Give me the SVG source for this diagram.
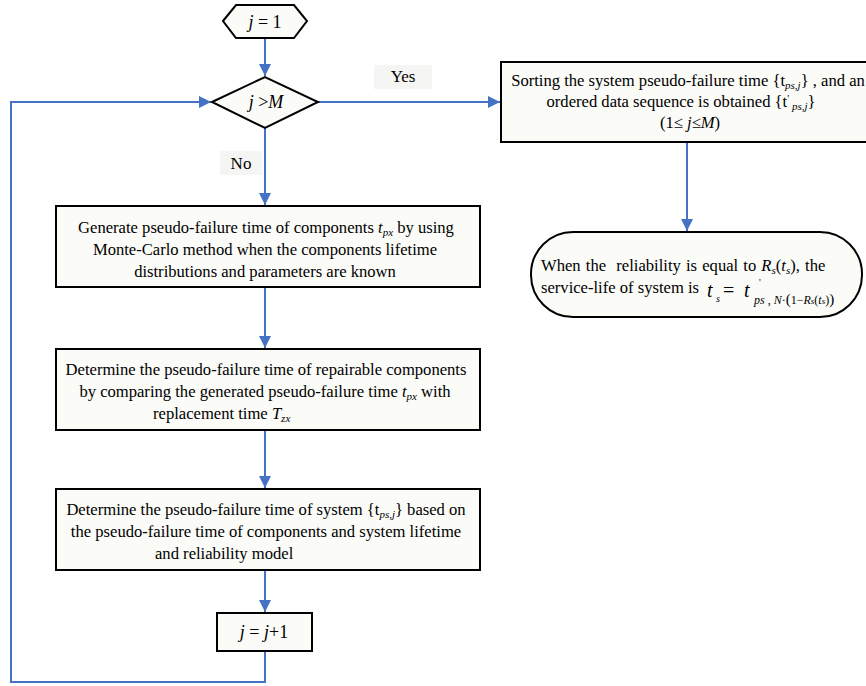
<svg xmlns="http://www.w3.org/2000/svg" width="866" height="686" viewBox="0 0 866 686">
<style>
.n{fill:#fbfbf8;stroke:#000;stroke-width:2}
.t{font-family:"Liberation Serif","Times New Roman",serif;font-size:16.6px;fill:#000}
.b{font-size:18px}
.c{text-anchor:middle}
.e{stroke:#4472c4;stroke-width:2;fill:none}
.lb{fill:#f5f5f3}
</style>
<defs>
<marker id="ah" viewBox="0 0 10 10" refX="10" refY="5" markerWidth="6" markerHeight="6" markerUnits="strokeWidth" orient="auto">
<path d="M0,0 L10,5 L0,10 z" fill="#4472c4"/>
</marker>
</defs>
<g id="connectors">
<path class="e" d="M265,38 V76" marker-end="url(#ah)"/>
<path class="e" d="M318,102 H500" marker-end="url(#ah)"/>
<path class="e" d="M265,128 V205" marker-end="url(#ah)"/>
<path class="e" d="M265,288 V348" marker-end="url(#ah)"/>
<path class="e" d="M265,431 V488" marker-end="url(#ah)"/>
<path class="e" d="M265,571 V612" marker-end="url(#ah)"/>
<path class="e" d="M265,651 V682 H11 V102 H211" marker-end="url(#ah)"/>
<path class="e" d="M687,143 V231" marker-end="url(#ah)"/>
</g>
<g id="label-yes">
<rect class="lb" x="374" y="65" width="58" height="24"/>
<text class="t c" x="403" y="82" style="font-size:17px">Yes</text>
</g>
<g id="label-no">
<rect class="lb" x="220" y="151" width="42" height="24"/>
<text class="t c" x="241" y="169" style="font-size:17px">No</text>
</g>
<g id="start">
<polygon class="n" points="223,21 236,5 294,5 307,21 294,38 236,38"/>
<text class="t b c" x="265" y="28"><tspan font-style="italic">j</tspan> = 1</text>
</g>
<g id="decision">
<polygon class="n" points="212,102 265,77 318,102 265,128"/>
<text class="t b c" x="266" y="108"><tspan font-style="italic">j</tspan> &gt;<tspan font-style="italic">M</tspan></text>
</g>
<g id="sort">
<rect class="n" x="501" y="62" width="372" height="80"/>
<text class="t c" x="688" y="86">Sorting the system pseudo-failure time {t<tspan font-size="11" font-style="italic" dy="3">ps,j</tspan><tspan dy="-3">} , and an</tspan></text>
<text class="t c" x="681" y="107">ordered data sequence is obtained {t<tspan font-size="11" dy="-5">'</tspan><tspan font-size="11" font-style="italic" dy="8">  ps,j</tspan><tspan dy="-3">}</tspan></text>
<text class="t c" x="690" y="128">(1≤ <tspan font-style="italic">j</tspan>≤<tspan font-style="italic">M</tspan>)</text>
</g>
<g id="result">
<rect class="n" x="531" y="232" width="331" height="85" rx="42" ry="42"/>
<text class="t" x="541" y="271" xml:space="preserve" style="word-spacing:1px">When the  reliability is equal to <tspan font-style="italic">R</tspan><tspan font-size="11" font-style="italic" dy="3">s</tspan><tspan dy="-3">(</tspan><tspan font-style="italic">t</tspan><tspan font-size="11" font-style="italic" dy="3">s</tspan><tspan dy="-3">), the</tspan></text>
<text class="t" x="541" y="293">service-life of system is</text>
<text class="t" x="707" y="297" style="font-size:20px;font-style:italic">t</text>
<text class="t" x="716" y="302" style="font-size:10px;font-style:italic">s</text>
<text class="t" x="723" y="297" style="font-size:20px">=</text>
<text class="t" x="744" y="297" style="font-size:20px;font-style:italic">t</text>
<text class="t" x="759" y="286" style="font-size:10px">'</text>
<text class="t" x="754" y="304" style="font-size:12px"><tspan font-style="italic">ps</tspan> , <tspan font-style="italic">N</tspan>·<tspan font-size="15">(</tspan>1−<tspan font-style="italic">R</tspan><tspan font-size="9" font-style="italic">s</tspan>(<tspan font-style="italic">t</tspan><tspan font-size="9" font-style="italic">s</tspan>)<tspan font-size="15">)</tspan></text>
</g>
<g id="generate">
<rect class="n" x="56" y="206" width="424" height="81"/>
<text class="t c" x="266" y="233">Generate pseudo-failure time of components <tspan font-style="italic">t</tspan><tspan font-size="11" font-style="italic" dy="3">px</tspan><tspan dy="-3"> by using</tspan></text>
<text class="t c" x="265" y="255">Monte-Carlo method when the components lifetime</text>
<text class="t c" x="265" y="277">distributions and parameters are known</text>
</g>
<g id="determine-repair">
<rect class="n" x="56" y="349" width="424" height="81"/>
<text class="t c" x="266" y="375">Determine the pseudo-failure time of repairable components</text>
<text class="t c" x="265" y="397">by comparing the generated pseudo-failure time <tspan font-style="italic">t</tspan><tspan font-size="11" font-style="italic" dy="3">px</tspan><tspan dy="-3"> with</tspan></text>
<text class="t" x="153" y="419">replacement time <tspan font-style="italic">T</tspan><tspan font-size="11" font-style="italic" dy="3">zx</tspan></text>
</g>
<g id="determine-system">
<rect class="n" x="56" y="489" width="424" height="81"/>
<text class="t c" x="266" y="515">Determine the pseudo-failure time of system {t<tspan font-size="11" font-style="italic" dy="3">ps,j</tspan><tspan dy="-3">} based on</tspan></text>
<text class="t c" x="266" y="537">the pseudo-failure time of components and system lifetime</text>
<text class="t" x="155" y="559">and reliability model</text>
</g>
<g id="increment">
<rect class="n" x="217" y="613" width="95" height="38"/>
<text class="t b c" x="264" y="638"><tspan font-style="italic">j</tspan> = <tspan font-style="italic">j</tspan>+1</text>
</g>
</svg>
